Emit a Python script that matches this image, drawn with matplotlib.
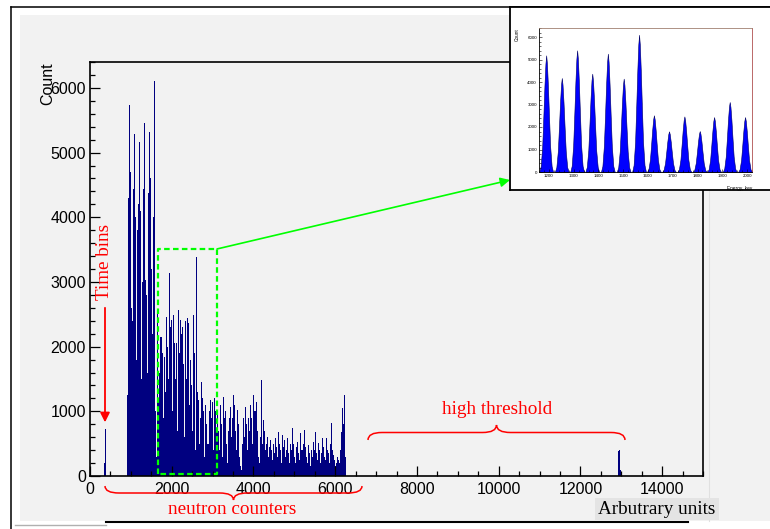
import numpy as np
import matplotlib
matplotlib.use('Agg')
import matplotlib.pyplot as plt
from matplotlib.path import Path
from matplotlib.patches import PathPatch, Rectangle
from matplotlib.ticker import MultipleLocator

# ---------------- data ----------------
BIN = 25
cluster_start = 900
cluster_counts = [1250, 4300, 5730, 4700, 2600,
                  2400, 4430, 5280, 4000, 1800,
                  3800, 4200, 5170, 4100, 1500,
                  3000, 4430, 5460, 3030, 2800,
                  1600, 4380, 5320, 4600, 3200,
                  2200, 4000, 6100, 1000, 300]
mid_start = 1650
mid_counts = [2520, 1200, 1600, 2150, 1900, 900, 1840, 1300, 2460, 2000,
              1500, 3140, 2300, 2410, 1000, 2490, 2050, 1500, 2050, 700,
              2570, 1900, 2410, 2200, 2300, 1730, 600, 2400, 1500, 2440,
              2370, 1100, 1800, 1400, 700, 2490, 1900, 400, 3390, 1300,
              1180, 500, 900, 1460, 1200, 1000, 300, 1100, 800, 500,
              1000, 1180, 900, 1150, 400, 1210, 1000, 700, 1000]
tail_start = 3125
tail_counts = [700, 400, 1100, 800, 300, 1220, 900, 1000, 500, 200,
               700, 900, 1070, 600, 900, 1250, 1100, 700, 400, 1020,
               800, 300, 150, 100, 500, 900, 600, 1070, 800, 400,
               900, 700, 1100, 900, 500, 1250, 1000, 1150, 700, 300,
               200, 600, 1490, 500, 870, 700, 400, 500, 600, 300,
               450, 560, 400, 250, 500, 350, 590, 450, 300, 680,
               500, 400, 200, 640, 450, 550, 300, 400, 590, 350,
               200, 500, 400, 740, 500, 300, 200, 450, 530, 350,
               250, 660, 400, 500, 710, 450, 300, 200, 480, 350,
               150, 400, 300, 530, 400, 680, 350, 250, 510, 400,
               200, 350, 590, 450, 300, 250, 590, 400, 350, 200,
               500, 820, 400, 330, 250, 150, 200, 300, 250, 200,
               400, 680, 1050, 800, 1250, 300]
time_bin_x = [360, 380, 515]
time_bin_counts = [200, 720, 120]
threshold_x = [12930, 12955, 12980]
threshold_counts = [380, 400, 100]

x_ticks = [0, 2000, 4000, 6000, 8000, 10000, 12000, 14000]
y_ticks = [0, 1000, 2000, 3000, 4000, 5000, 6000]

peak_energy = [1189, 1252, 1314, 1375, 1438, 1502, 1564, 1624, 1685, 1747, 1809, 1867, 1930, 1992]
peak_counts = [5185, 4177, 5407, 4370, 5260, 4150, 6100, 2520, 1807, 2470, 1820, 2440, 3110, 2440]
peak_offsets = [-28, -22, -16, -11, -7, -3, 0, 3, 7, 11, 16, 22, 28]
peak_shape = [0.0, 0.05, 0.22, 0.5, 0.74, 0.93, 1.0, 0.93, 0.74, 0.5, 0.22, 0.05, 0.0]
inset_x_ticks = [1200, 1300, 1400, 1500, 1600, 1700, 1800, 1900, 2000]
inset_y_ticks = [0, 1000, 2000, 3000, 4000, 5000, 6000]

# ---------------- figure ----------------
plt.rcParams['font.family'] = ['Liberation Sans', 'DejaVu Sans']
W, H = 770, 529
fig = plt.figure(figsize=(W / 100, H / 100), dpi=100)
fig.patch.set_facecolor('white')
PANEL = '#f2f2f2'
NAVY = '#000080'
RED = '#ff0000'
GREEN = '#00ff00'
SERIF = ['Liberation Serif', 'DejaVu Serif']


def fr(x0, y0, x1, y1):
    """pixel box (top-left origin) -> figure fraction rect"""
    return [x0 / W, 1 - y1 / H, (x1 - x0) / W, (y1 - y0) / H]


# background axes in pixel coords
bg = fig.add_axes([0, 0, 1, 1], zorder=0)
bg.set_xlim(0, W)
bg.set_ylim(H, 0)
bg.axis('off')
bg.add_patch(Rectangle((20, 15), 750, 506, facecolor=PANEL, edgecolor='none'))
bg.plot([11, 11], [7, H], color='black', lw=1.1)
bg.plot([11, W], [7, 7], color='black', lw=1.1)
bg.plot([106, 688], [522, 522], color='black', lw=1.5)
bg.plot([15, 106], [525, 525], color='#b0b0b0', lw=1.0)
bg.plot([709, 709], [190, 521], color='#e0e0e0', lw=0.8)

# main axes
ax = fig.add_axes(fr(90, 62, 703, 476), zorder=1)
ax.set_facecolor(PANEL)
cl_x = cluster_start + BIN * np.arange(len(cluster_counts))
md_x = mid_start + BIN * np.arange(len(mid_counts))
tl_x = tail_start + BIN * np.arange(len(tail_counts))
for xs, hs in [(cl_x, cluster_counts), (md_x, mid_counts), (tl_x, tail_counts)]:
    ax.bar(xs, hs, width=BIN, align='edge', color=NAVY, linewidth=0)
ax.bar(time_bin_x, time_bin_counts, width=BIN * 0.6, color=NAVY, linewidth=0)
ax.bar(threshold_x, threshold_counts, width=BIN, color=NAVY, linewidth=0)

ax.set_xlim(0, 15000)
ax.set_ylim(0, 6400)
ax.set_xticks(x_ticks)
ax.set_yticks(y_ticks)
ax.xaxis.set_minor_locator(MultipleLocator(500))
ax.yaxis.set_minor_locator(MultipleLocator(200))
ax.tick_params(which='both', direction='in', width=0.9, labelsize=11.5)
ax.tick_params(which='major', length=7.2)
ax.tick_params(which='minor', length=3.6)
ax.tick_params(axis='x', pad=4)
ax.tick_params(axis='y', pad=3)
for s in ax.spines.values():
    s.set_linewidth(1.2)
    s.set_color('black')

# green zoom box and arrow
box_x0, box_x1, box_y = 1660, 3110, 3510
ax.plot([box_x0, box_x0, box_x1, box_x1, box_x0],
        [25, box_y, box_y, 25, 25], color=GREEN, lw=1.6,
        ls=(0, (2.5, 1.5)), clip_on=False, zorder=5)
ax.annotate('', xy=(510 / W, 1 - 180 / H), xycoords='figure fraction',
            xytext=(box_x1, box_y), textcoords='data',
            arrowprops=dict(arrowstyle='-|>', color=GREEN, lw=1.2,
                            shrinkA=0, shrinkB=0, mutation_scale=14),
            annotation_clip=False, zorder=6)

# Time bins arrow + label
ax.annotate('', xy=(367, 830), xytext=(367, 2600),
            arrowprops=dict(arrowstyle='-|>', color=RED, lw=1.3,
                            shrinkA=0, shrinkB=0, mutation_scale=14))
ax.text(367, 3310, 'Time bins', rotation=90, color=RED, fontsize=13.8,
        family=SERIF, ha='center', va='center')

# inset box
ibox = fig.add_axes([510 / W, 1 - 190 / H, 1 - 510 / W + 0.01, (190 - 7) / H], zorder=2)
ibox.set_facecolor('white')
ibox.set_xticks([])
ibox.set_yticks([])
for s in ibox.spines.values():
    s.set_linewidth(1.3)
    s.set_color('black')

# inset plot
ia = fig.add_axes(fr(539, 28, 752, 172), zorder=3)
ia.set_facecolor('white')
for c, h in zip(peak_energy, peak_counts):
    px = [c + o for o in peak_offsets]
    py = [h * s for s in peak_shape]
    ia.fill_between(px, py, 0, color='#0000ff', linewidth=0.4, edgecolor='#000060')
ia.set_xlim(1160, 2020)
ia.set_ylim(0, 6400)
ia.set_xticks(inset_x_ticks)
ia.set_yticks(inset_y_ticks)
ia.xaxis.set_minor_locator(MultipleLocator(20))
ia.yaxis.set_minor_locator(MultipleLocator(200))
ia.tick_params(which='both', direction='in', width=0.4, labelsize=3.2, pad=1.5)
ia.tick_params(which='major', length=2.2)
ia.tick_params(which='minor', length=1.1)
for k in ['left', 'bottom']:
    ia.spines[k].set_color('black')
    ia.spines[k].set_linewidth(0.6)
ia.spines['top'].set_color('#a08070')
ia.spines['right'].set_color('#b05050')
ia.spines['top'].set_linewidth(0.6)
ia.spines['right'].set_linewidth(0.6)
ia.text(1.0, -0.1, 'Energy, kev', transform=ia.transAxes, ha='right', va='top',
        fontsize=3.4)
ia.text(-0.1, 1.0, 'Count', transform=ia.transAxes, ha='center', va='top',
        rotation=90, fontsize=3.4)

# overlay in pixel coords
ov = fig.add_axes([0, 0, 1, 1], zorder=4)
ov.set_xlim(0, W)
ov.set_ylim(H, 0)
ov.axis('off')
ov.patch.set_alpha(0)


def brace(x0, x1, y, d, r):
    xm = (x0 + x1) / 2
    verts = [(x0, y), (x0, y + d / 2), (x0 + r, y + d / 2),
             (xm - r, y + d / 2),
             (xm, y + d / 2), (xm, y + d),
             (xm, y + d / 2), (xm + r, y + d / 2),
             (x1 - r, y + d / 2),
             (x1, y + d / 2), (x1, y)]
    codes = [Path.MOVETO, Path.CURVE3, Path.CURVE3, Path.LINETO,
             Path.CURVE3, Path.CURVE3, Path.CURVE3, Path.CURVE3,
             Path.LINETO, Path.CURVE3, Path.CURVE3]
    ov.add_patch(PathPatch(Path(verts, codes), facecolor='none',
                           edgecolor=RED, lw=1.1))


brace(105, 362, 486, 14, 14)
brace(368, 625, 440, -15, 14)
ov.text(232, 509, 'neutron counters', color=RED, fontsize=13.8, family=SERIF,
        ha='center', va='center')
ov.text(497, 410, 'high threshold', color=RED, fontsize=13.8, family=SERIF,
        ha='center', va='center')
ov.text(657, 509, 'Arbutrary units', color='black', fontsize=13.8, family=SERIF,
        ha='center', va='center',
        bbox=dict(boxstyle='square,pad=0.15', facecolor='#e4e4e4', edgecolor='none'))
ov.text(48, 62, 'Count', rotation=90, fontsize=11.5, ha='center', va='top')

fig.savefig('out.png', dpi=100)
